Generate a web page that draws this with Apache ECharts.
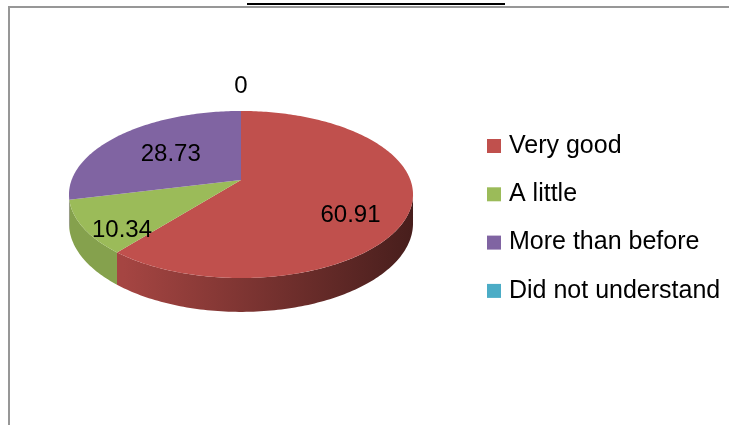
<!DOCTYPE html>
<html>
<head>
<meta charset="utf-8">
<script src="https://cdn.jsdelivr.net/npm/echarts@6/dist/echarts.min.js"></script>
<style>
  html, body { margin: 0; padding: 0; background: #ffffff; }
  #chart { width: 729px; height: 425px; }
</style>
</head>
<body>
<div id="chart"></div>
<script>
// Survey answers (percent of respondents)
const categories = ['Very good', 'A little', 'More than before', 'Did not understand'];
const values = [60.91, 10.34, 28.73, 0];
const colors = ['#C0504D', '#9BBB59', '#8064A2', '#4BACC6'];

// Label placement per slice: radial fraction and extra vertical shift
const labelRadius = [0.66, 0.77, 0.56, 1.47];
const labelShift = [17, 15, 1, 1];

// Perspective view of a tilted disc
const view = { cx: 241, cy: 180, A: 169.4, B: 81, k: 0.1736, h: 28 };
const FONT = 'Liberation Sans';

const total = values.reduce((a, b) => a + b, 0);
const startAngles = [];
let acc = 0;
values.forEach(v => { startAngles.push(acc / total * Math.PI * 2); acc += v; });

// theta measured clockwise from 12 o'clock, r as a fraction of the radius
function proj(theta, r, down) {
  const c = Math.cos(theta), s = Math.sin(theta);
  const d = 1 + view.k * r * c;
  return [view.cx + view.A * r * s / d,
          view.cy - view.B * r * c / d + (down ? view.h / d : 0)];
}

function arc(a0, a1, down) {
  const pts = [];
  const n = Math.max(2, Math.ceil(Math.abs(a1 - a0) / (Math.PI / 180)));
  for (let i = 0; i <= n; i++) pts.push(proj(a0 + (a1 - a0) * i / n, 1, down));
  return pts;
}

// front wall is visible where cos(theta) < -k
const visFrom = Math.acos(-view.k);
const visTo = Math.PI * 2 - visFrom;

function shade(hex, f) {
  const n = parseInt(hex.slice(1), 16);
  const ch = [(n >> 16) & 255, (n >> 8) & 255, n & 255].map(x => Math.round(x * f));
  return 'rgb(' + ch.join(',') + ')';
}

function makeRender(idx) {
  return function (params, api) {
    const v = api.value(0);
    const a0 = startAngles[idx];
    const a1 = a0 + v / total * Math.PI * 2;
    const children = [];
    if (v > 0) {
      const top = [[view.cx, view.cy]].concat(arc(a0, a1, false));
      children.push({
        type: 'polygon', z2: 2,
        shape: { points: top },
        style: { fill: colors[idx], stroke: null }
      });
      const s0 = Math.max(a0, visFrom), s1 = Math.min(a1, visTo);
      if (s1 > s0) {
        const side = arc(s0, s1, false).concat(arc(s0, s1, true).reverse());
        const left = view.cx - view.A * 1.02, right = view.cx + view.A * 1.02;
        children.push({
          type: 'polygon', z2: 1,
          shape: { points: side },
          style: {
            fill: new echarts.graphic.LinearGradient(left, 0, right, 0, [
              { offset: 0, color: shade(colors[idx], 0.86) },
              { offset: 0.16, color: shade(colors[idx], 0.86) },
              { offset: 1, color: shade(colors[idx], 0.37) }
            ], true),
            stroke: null
          }
        });
      }
    }
    const mid = v > 0 ? (a0 + a1) / 2 : Math.PI * 2;
    const p = proj(mid, labelRadius[idx], false);
    children.push({
      type: 'text', z2: 3,
      x: p[0], y: p[1] + labelShift[idx],
      style: {
        text: String(v), fill: '#000', font: '24px "' + FONT + '"',
        align: 'center', verticalAlign: 'middle'
      }
    });
    return { type: 'group', children: children };
  };
}

const chart = echarts.init(document.getElementById('chart'), null, { renderer: 'canvas' });
chart.setOption({
  backgroundColor: '#ffffff',
  animation: false,
  legend: {
    orient: 'vertical',
    left: 482,
    top: 126,
    itemWidth: 14,
    itemHeight: 14,
    itemGap: 18.3,
    icon: 'rect',
    textStyle: { fontFamily: FONT, fontSize: 25, color: '#000', lineHeight: 30, padding: [0, 0, 0, 3] },
    data: categories
  },
  graphic: [
    { type: 'rect', shape: { x: 9, y: 7, width: 800, height: 500 },
      style: { fill: null, stroke: '#979797', lineWidth: 2 }, silent: true },
    { type: 'line', shape: { x1: 247, y1: 4, x2: 505, y2: 4 },
      style: { stroke: '#000', lineWidth: 2 }, silent: true }
  ],
  series: categories.map((name, i) => ({
    type: 'custom',
    name: name,
    coordinateSystem: 'none',
    itemStyle: { color: colors[i] },
    renderItem: makeRender(i),
    data: [[values[i]]]
  }))
});
</script>
</body>
</html>
